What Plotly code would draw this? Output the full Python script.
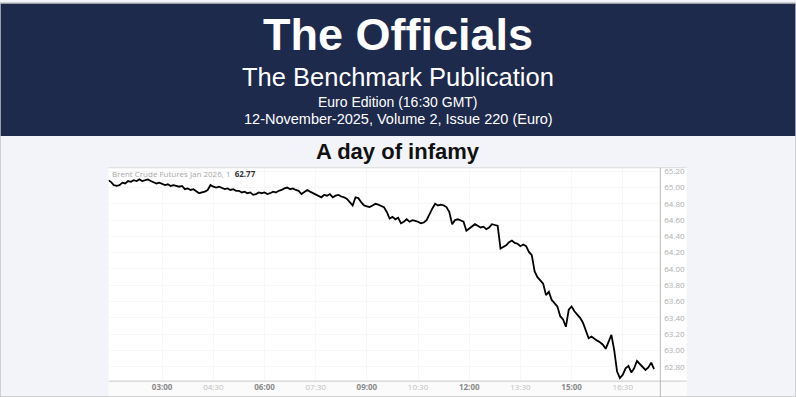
import plotly.graph_objects as go

# ---- data ----
times = [
    "01:25","01:30","01:35","01:40","01:45","01:50","01:55",
    "02:00","02:05","02:10","02:15","02:20","02:25","02:30","02:35","02:40","02:45","02:50","02:55",
    "03:00","03:05","03:10","03:15","03:20","03:25","03:30","03:35","03:40","03:45","03:50","03:55",
    "04:00","04:05","04:10","04:15","04:20","04:25","04:30","04:35","04:40","04:45","04:50","04:55",
    "05:00","05:05","05:10","05:15","05:20","05:25","05:30","05:35","05:40","05:45","05:50","05:55",
    "06:00","06:05","06:10","06:15","06:20","06:25","06:30","06:35","06:40","06:45","06:50","06:55",
    "07:00","07:05","07:10","07:15","07:20","07:25","07:30","07:35","07:40","07:45","07:50","07:55",
    "08:00","08:05","08:10","08:15","08:20","08:25","08:30","08:35","08:40","08:45","08:50","08:55",
    "09:00","09:05","09:10","09:15","09:20","09:25","09:30","09:35","09:40","09:45","09:50","09:55",
    "10:00","10:05","10:10","10:15","10:20","10:25","10:30","10:35","10:40","10:45","10:50","10:55",
    "11:00","11:05","11:10","11:15","11:20","11:25","11:30","11:35","11:40","11:45","11:50","11:55",
    "12:00","12:05","12:10","12:15","12:20","12:25","12:30","12:35","12:40","12:45","12:50","12:55",
    "13:00","13:05","13:10","13:15","13:20","13:25","13:30","13:35","13:40","13:45","13:50","13:55",
    "14:00","14:05","14:10","14:15","14:20","14:25","14:30","14:35","14:40","14:45","14:50","14:55",
    "15:00","15:05","15:10","15:15","15:20","15:25","15:30","15:35","15:40","15:45","15:50","15:55",
    "16:00","16:05","16:10","16:15","16:20","16:25","16:30","16:35","16:40","16:45","16:50","16:55",
    "17:00","17:05","17:10","17:15","17:20","17:25",
]
prices = [
    65.09,65.07,65.03,65.02,65.03,65.06,65.05,
    65.08,65.07,65.09,65.08,65.10,65.08,65.09,65.10,65.08,65.06,65.05,65.06,
    65.04,65.03,65.04,65.02,65.03,65.02,65.01,65.02,64.98,64.99,64.97,64.98,
    64.95,64.93,64.94,64.95,64.97,65.03,65.01,65.00,65.01,64.99,64.98,64.99,
    64.97,64.98,64.96,64.96,64.94,64.95,64.93,64.94,64.91,64.92,64.94,64.93,
    64.94,64.92,64.93,64.95,64.94,64.96,64.97,64.99,65.00,64.98,64.99,64.97,
    64.96,64.92,64.94,64.97,64.95,64.93,64.92,64.90,64.88,64.91,64.90,64.92,
    64.88,64.90,64.91,64.89,64.88,64.86,64.82,64.78,64.88,64.87,64.82,64.78,
    64.77,64.76,64.78,64.80,64.79,64.77,64.76,64.70,64.62,64.64,64.61,64.63,
    64.56,64.58,64.61,64.58,64.60,64.59,64.58,64.56,64.57,64.60,64.68,64.74,
    64.80,64.78,64.79,64.78,64.76,64.70,64.55,64.60,64.61,64.59,64.58,64.47,
    64.50,64.52,64.55,64.53,64.51,64.52,64.49,64.51,64.55,64.54,64.53,64.25,
    64.27,64.29,64.33,64.35,64.32,64.31,64.28,64.30,64.28,64.21,64.17,63.97,
    63.90,63.86,63.82,63.68,63.72,63.62,63.58,63.54,63.42,63.38,63.29,63.50,
    63.54,63.48,63.44,63.40,63.34,63.23,63.15,63.17,63.14,63.12,63.10,63.07,
    63.02,63.10,63.19,63.00,62.74,62.66,62.70,62.78,62.81,62.73,62.78,62.87,
    62.83,62.80,62.76,62.79,62.85,62.77,
]
x_tick_times = ["03:00","04:30","06:00","07:30","09:00","10:30","12:00","13:30","15:00","16:30"]
x_tick_major = [True, False, True, False, True, False, True, False, True, False]
y_ticks = [62.80,63.00,63.20,63.40,63.60,63.80,64.00,64.20,64.40,64.60,64.80,65.00,65.20]
series_label = "Brent Crude Futures Jan 2026, 1"
last_value = "62.77"

DAY = "2025-11-12 "
xs = [DAY + t + ":00" for t in times]
tickvals = [DAY + t + ":00" for t in x_tick_times]
ticktext = [
    (f"<b><span style='color:#8a8a8a'>{t}</span></b>" if m else f"<span style='color:#c0c0c0'>{t}</span>")
    for t, m in zip(x_tick_times, x_tick_major)
]

W, H = 796, 397
def px(x):
    return x / W
def py(y):
    return 1 - y / H

x0, x1 = 108.7, 660.3      # plot area left/right (px)
yt, yb = 166.0, 381.0      # plot area top/bottom (px)
img_right = 686.7

fig = go.Figure()
fig.add_trace(go.Scatter(
    x=xs, y=prices, mode="lines",
    line=dict(color="#000000", width=1.8),
    hoverinfo="skip", showlegend=False,
))

navy = "#1d2a4c"
shapes = [
    dict(type="rect", xref="paper", yref="paper", x0=0, x1=1, y0=py(134), y1=1,
         fillcolor=navy, line=dict(width=0), layer="below"),
    dict(type="rect", xref="paper", yref="paper", x0=px(x0), x1=px(img_right), y0=0, y1=py(yt),
         fillcolor="#ffffff", line=dict(width=0), layer="below"),
    dict(type="rect", xref="paper", yref="paper", x0=px(x0), x1=px(img_right), y0=0, y1=py(yb),
         fillcolor="#fbfbfb", line=dict(width=0), layer="below"),
    dict(type="line", xref="paper", yref="paper", x0=px(x0), x1=px(img_right), y0=py(yt), y1=py(yt),
         line=dict(color="#d9d9d9", width=1)),
    dict(type="line", xref="paper", yref="paper", x0=px(x0), x1=px(img_right), y0=py(yb), y1=py(yb),
         line=dict(color="#c8c8c8", width=1)),
    dict(type="line", xref="paper", yref="paper", x0=px(x1), x1=px(x1), y0=0, y1=py(yt),
         line=dict(color="#b8b8b8", width=1)),
    dict(type="rect", xref="paper", yref="paper", x0=0, x1=1, y0=0, y1=1,
         line=dict(color="#c4c4c4", width=1.5), fillcolor="rgba(0,0,0,0)"),
]

annotations = [
    dict(text="<b>The Officials</b>", x=0.5, y=py(32), xref="paper", yref="paper",
         showarrow=False, xanchor="center", yanchor="middle",
         font=dict(family="Liberation Sans, Arial", size=45, color="#ffffff")),
    dict(text="The Benchmark Publication", x=0.5, y=py(75), xref="paper", yref="paper",
         showarrow=False, xanchor="center", yanchor="middle",
         font=dict(family="Liberation Sans, Arial", size=25.5, color="#ffffff")),
    dict(text="Euro Edition (16:30 GMT)", x=0.5, y=py(100), xref="paper", yref="paper",
         showarrow=False, xanchor="center", yanchor="middle",
         font=dict(family="Liberation Sans, Arial", size=14, color="#ffffff")),
    dict(text="12-November-2025, Volume 2, Issue 220 (Euro)", x=0.5, y=py(117), xref="paper", yref="paper",
         showarrow=False, xanchor="center", yanchor="middle",
         font=dict(family="Liberation Sans, Arial", size=14.5, color="#ffffff")),
    dict(text="<b>A day of infamy</b>", x=0.5, y=py(150), xref="paper", yref="paper",
         showarrow=False, xanchor="center", yanchor="middle",
         font=dict(family="Liberation Sans, Arial", size=22, color="#111111")),
    dict(text=f"<span style='color:#a8a8a8'>{series_label}</span>  <b><span style='color:#333333'>{last_value}</span></b>",
         x=px(110), y=py(172), xref="paper", yref="paper",
         showarrow=False, xanchor="left", yanchor="middle",
         font=dict(family="Open Sans", size=8, color="#a8a8a8")),
]

fig.update_layout(
    width=W, height=H, autosize=False,
    margin=dict(l=0, r=0, t=0, b=0),
    paper_bgcolor="#f2f4f9",
    plot_bgcolor="#ffffff",
    showlegend=False,
    shapes=shapes,
    annotations=annotations,
    xaxis=dict(
        domain=[px(x0), px(x1)],
        type="date",
        range=[DAY + "01:26:00", DAY + "17:36:00"],
        tickvals=tickvals, ticktext=ticktext,
        showgrid=True, gridcolor="#f7f7f7", gridwidth=1,
        showline=False, zeroline=False, ticks="",
        tickfont=dict(family="Open Sans", size=8, color="#c0c0c0"),
        fixedrange=True,
    ),
    yaxis=dict(
        domain=[py(yb), py(yt)],
        side="right",
        range=[62.623, 65.243],
        tickvals=y_ticks, tickformat=".2f",
        showgrid=True, gridcolor="#f7f7f7", gridwidth=1,
        showline=False, zeroline=False, ticks="",
        ticklabelstandoff=3,
        tickfont=dict(family="Open Sans", size=8, color="#b0b0b0"),
        fixedrange=True,
    ),
)

fig.write_html("out.html")
